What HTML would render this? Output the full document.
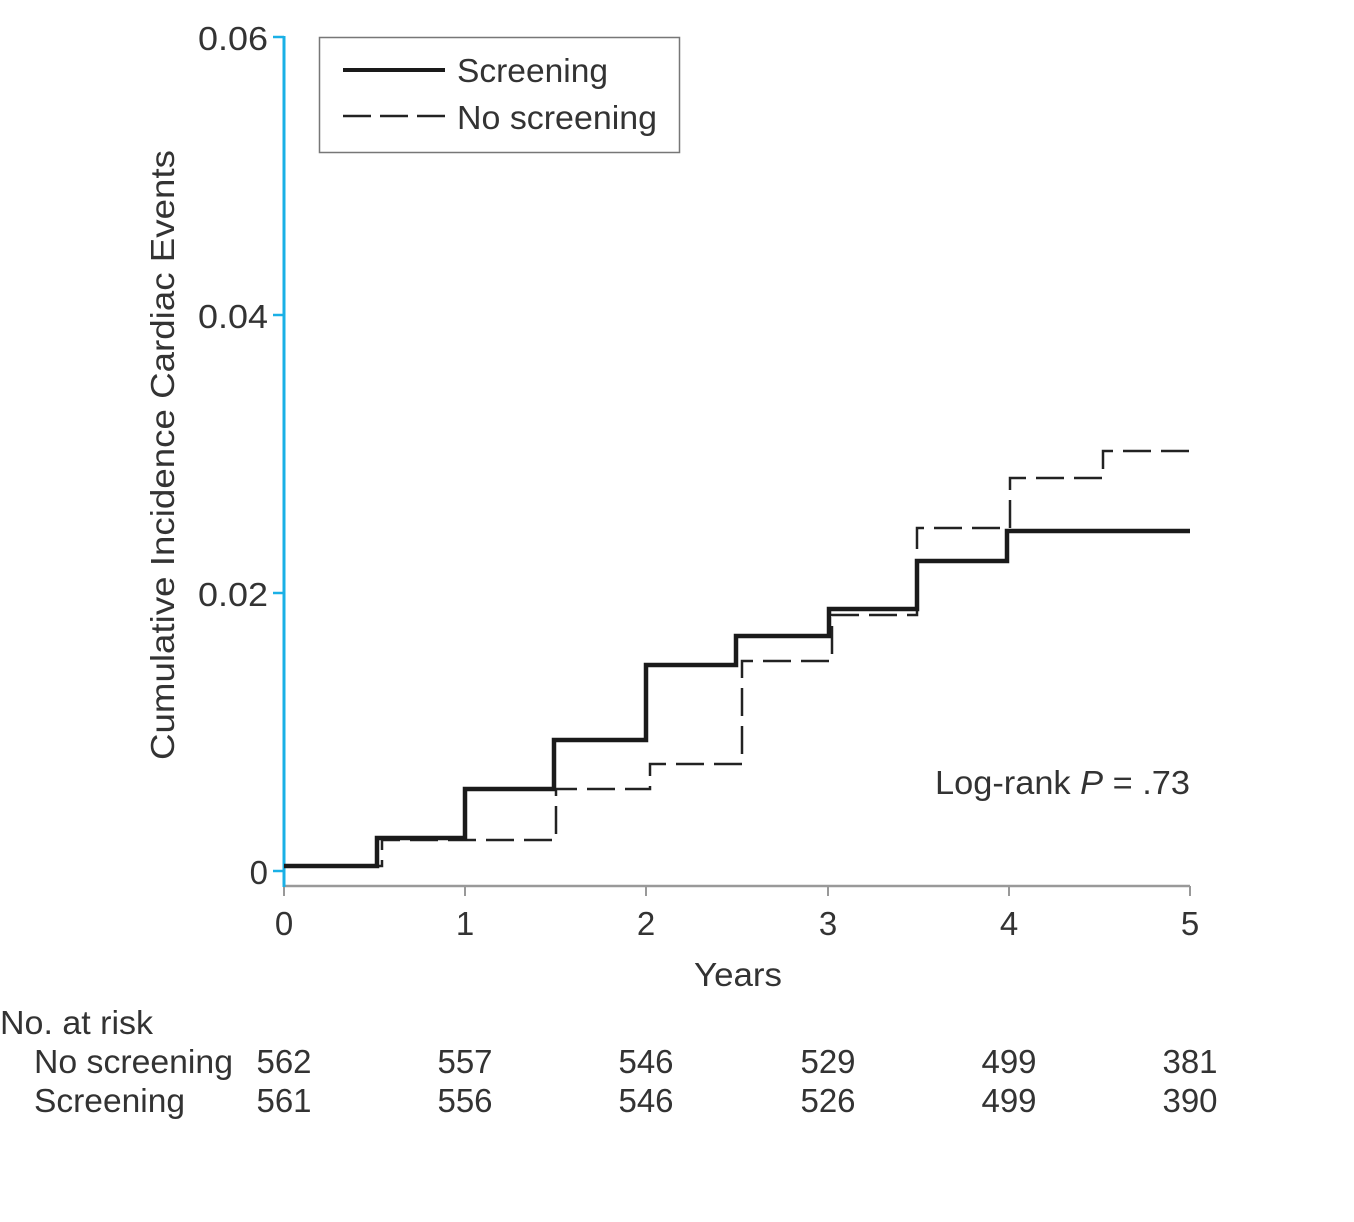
<!DOCTYPE html>
<html><head><meta charset="utf-8"><style>
html,body{margin:0;padding:0;background:#fff;}
svg{display:block;}
text{font-family:"Liberation Sans",sans-serif;fill:#333;}
</style></head><body>
<svg width="1354" height="1222" viewBox="0 0 1354 1222" xmlns="http://www.w3.org/2000/svg">
<line x1="284" y1="886" x2="1190" y2="886" stroke="#999" stroke-width="2.5"/>
<g stroke="#999" stroke-width="2">
<line x1="284" y1="886" x2="284" y2="896"/><line x1="465" y1="886" x2="465" y2="896"/>
<line x1="646" y1="886" x2="646" y2="896"/><line x1="828" y1="886" x2="828" y2="896"/>
<line x1="1009" y1="886" x2="1009" y2="896"/><line x1="1190" y1="886" x2="1190" y2="896"/>
</g>
<line x1="284" y1="36" x2="284" y2="887" stroke="#1ab0e6" stroke-width="3"/>
<g stroke="#1ab0e6" stroke-width="2.5">
<line x1="273" y1="871" x2="284" y2="871"/><line x1="273" y1="593" x2="284" y2="593"/>
<line x1="273" y1="315" x2="284" y2="315"/><line x1="273" y1="37" x2="284" y2="37"/>
</g>
<g font-size="33" text-anchor="end">
<text x="268" y="884">0</text><text x="268" y="606" textLength="70" lengthAdjust="spacingAndGlyphs">0.02</text>
<text x="268" y="328" textLength="70" lengthAdjust="spacingAndGlyphs">0.04</text><text x="268" y="50" textLength="70" lengthAdjust="spacingAndGlyphs">0.06</text>
</g>
<g font-size="33" text-anchor="middle">
<text x="284" y="935">0</text><text x="465" y="935">1</text><text x="646" y="935">2</text>
<text x="828" y="935">3</text><text x="1009" y="935">4</text><text x="1190" y="935">5</text>
<text x="738" y="986" textLength="88" lengthAdjust="spacingAndGlyphs">Years</text>
</g>
<text x="-455" y="174" transform="rotate(-90)" font-size="33" text-anchor="middle" textLength="610" lengthAdjust="spacingAndGlyphs">Cumulative Incidence Cardiac Events</text>
<polyline fill="none" stroke="#222" stroke-width="2.5" stroke-dasharray="28,10"
 points="284,866 382,866 382,840 556,840 556,789 650,789 650,764 742,764 742,661 832,661 832,615 917,615 917,528 1010,528 1010,478 1103,478 1103,451 1190,451"/>
<polyline fill="none" stroke="#1a1a1a" stroke-width="4.5"
 points="284,866 377,866 377,838 465,838 465,789 554,789 554,740 646,740 646,665 736,665 736,636 829,636 829,609 917,609 917,561 1007,561 1007,531 1190,531"/>
<text x="935" y="794" font-size="33" textLength="255" lengthAdjust="spacingAndGlyphs">Log-rank <tspan font-style="italic">P</tspan> = .73</text>
<rect x="319.5" y="37.5" width="360" height="115" fill="#fff" stroke="#777" stroke-width="1.5"/>
<line x1="343" y1="70" x2="445" y2="70" stroke="#1a1a1a" stroke-width="4"/>
<line x1="343" y1="116" x2="445" y2="116" stroke="#222" stroke-width="2.5" stroke-dasharray="28,9"/>
<text x="457" y="82" font-size="33" textLength="151" lengthAdjust="spacingAndGlyphs">Screening</text>
<text x="457" y="129" font-size="33" textLength="200" lengthAdjust="spacingAndGlyphs">No screening</text>
<g font-size="33">
<text x="0" y="1034" textLength="153" lengthAdjust="spacingAndGlyphs">No. at risk</text>
<text x="34" y="1073" textLength="199" lengthAdjust="spacingAndGlyphs">No screening</text>
<text x="34" y="1112" textLength="151" lengthAdjust="spacingAndGlyphs">Screening</text>
</g>
<g font-size="33" text-anchor="middle">
<text x="284" y="1073">562</text><text x="465" y="1073">557</text><text x="646" y="1073">546</text>
<text x="828" y="1073">529</text><text x="1009" y="1073">499</text><text x="1190" y="1073">381</text>
<text x="284" y="1112">561</text><text x="465" y="1112">556</text><text x="646" y="1112">546</text>
<text x="828" y="1112">526</text><text x="1009" y="1112">499</text><text x="1190" y="1112">390</text>
</g>
</svg>
</body></html>
